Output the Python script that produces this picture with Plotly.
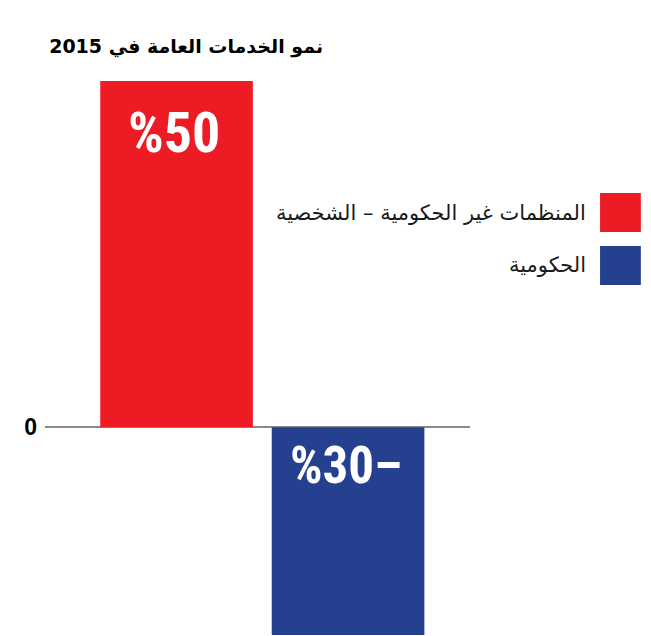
import plotly.graph_objects as go

# data
series_names = ["المنظمات غير الحكومية – الشخصية", "الحكومية"]
growth_values = [50, -30]
value_labels = ["%50", "%30–"]
bar_colors = ["#ED1C24", "#25408F"]
chart_title = "نمو الخدمات العامة في 2015"

label_font = "Liberation Sans Narrow, Roboto Condensed, Arial Narrow, Liberation Sans, sans-serif"
arabic_font = "DejaVu Sans, Noto Sans, sans-serif"

fig = go.Figure()

for name, val, color in zip(series_names, growth_values, bar_colors):
    fig.add_trace(go.Bar(
        x=[name],
        y=[val],
        name=name,
        marker=dict(color=color, line=dict(width=0)),
        width=0.89,
        hoverinfo="skip",
    ))

# value labels inside the bars
fig.add_annotation(x=series_names[0], y=growth_values[0], text=value_labels[0],
                   showarrow=False, yanchor="middle", yshift=-52, xshift=-3,
                   font=dict(family=label_font, size=56, color="white", weight="bold"))
fig.add_annotation(x=series_names[1], y=0, text=value_labels[1],
                   showarrow=False, yanchor="middle", yshift=-38, xshift=-2,
                   font=dict(family=label_font, size=51, color="white", weight="bold"))

# hand-made legend with large colour squares
legend_rows = [(0.7978, 0.7274), (0.7022, 0.6318)]
for name, color, (y1, y0) in zip(series_names, bar_colors, legend_rows):
    fig.add_shape(type="rect", xref="paper", yref="paper",
                  x0=1.306, x1=1.402, y0=y0, y1=y1,
                  fillcolor=color, line=dict(width=0))
    fig.add_annotation(xref="paper", yref="paper", x=1.278, y=(y0 + y1) / 2,
                       text=name, showarrow=False, xanchor="right", yanchor="middle",
                       font=dict(family=arabic_font, size=21, color="#1a1a1a"))

# the page has an 8px body margin, so the figure is a bit smaller than the window
fig.update_layout(
    width=643,
    height=628,
    margin=dict(l=37, r=181, t=73, b=1),
    paper_bgcolor="white",
    plot_bgcolor="white",
    barmode="overlay",
    showlegend=False,
    title=dict(text=chart_title, x=0.490, xanchor="right", xref="container",
               y=0.9395, yanchor="middle", yref="container",
               font=dict(family=arabic_font, size=19, color="black", weight="bold")),
    xaxis=dict(range=[-0.767, 1.711], showticklabels=False, showgrid=False,
               zeroline=False, showline=False, ticks=""),
    yaxis=dict(range=[-30, 50], tickvals=[0], ticktext=["0"], showgrid=False,
               zeroline=True, zerolinecolor="#8a8a8a", zerolinewidth=1.5,
               showline=False, ticks="", ticklabelstandoff=7,
               tickfont=dict(family="Liberation Sans, Arial, sans-serif", size=23,
                             color="black", weight="bold")),
)

fig.write_html("out.html")
